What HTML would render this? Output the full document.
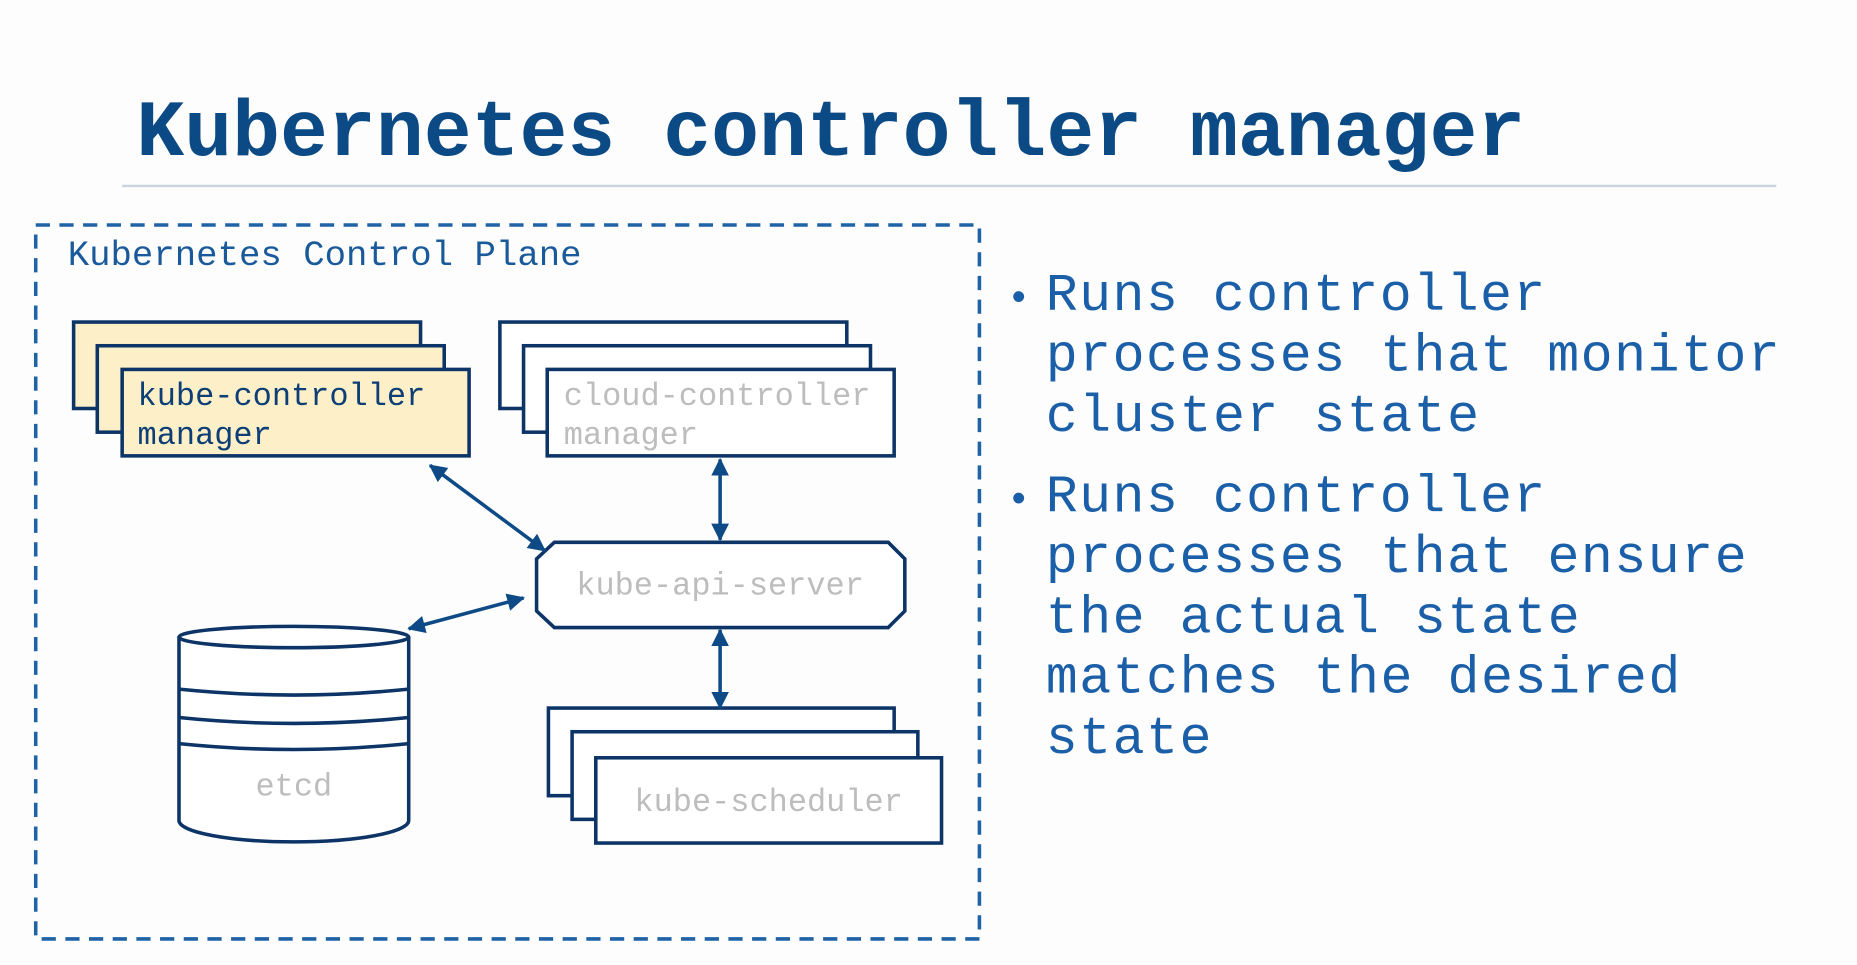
<!DOCTYPE html>
<html><head><meta charset="utf-8"><style>
html,body{margin:0;padding:0;background:#fff;}
svg{display:block;}
text{font-family:"Liberation Mono","DejaVu Sans Mono",monospace;}
</style></head><body>
<svg width="1857" height="965" viewBox="0 0 1568 815" xmlns="http://www.w3.org/2000/svg">
<defs>
<marker id="a" viewBox="0 0 12 12" refX="11" refY="6" markerWidth="15" markerHeight="15" orient="auto-start-reverse" markerUnits="userSpaceOnUse"><path d="M0,0 L12,6 L0,12 z" fill="#0d4a86"/></marker>
</defs>
<rect width="1568" height="815" fill="#fdfdfd"/>
<text x="115" y="131" font-size="67" font-weight="bold" fill="#0b4a85" textLength="1173" lengthAdjust="spacingAndGlyphs">Kubernetes controller manager</text>
<line x1="103" y1="157" x2="1500" y2="157" stroke="#c9d4de" stroke-width="2"/>
<rect x="30" y="190" width="797" height="603" fill="none" stroke="#1f63a6" stroke-width="3" stroke-dasharray="12 8"/>
<text x="57" y="224" font-size="29.5" fill="#1a5a9a" textLength="434" lengthAdjust="spacingAndGlyphs">Kubernetes Control Plane</text>
<g stroke="#0d3466" stroke-width="3" fill="#fdf0c9">
<rect x="62" y="272" width="293" height="73"/>
<rect x="82" y="292" width="293" height="73"/>
<rect x="103" y="312" width="293" height="73"/>
</g>
<text x="116" y="342" font-size="27" fill="#0d3f76" textLength="243" lengthAdjust="spacingAndGlyphs">kube-controller</text>
<text x="116" y="375" font-size="27" fill="#0d3f76">manager</text>
<g stroke="#0d3466" stroke-width="3" fill="#fff">
<rect x="422" y="272" width="293" height="73"/>
<rect x="442" y="292" width="293" height="73"/>
<rect x="462" y="312" width="293" height="73"/>
<rect x="463" y="598" width="292" height="74"/>
<rect x="483" y="618" width="292" height="74"/>
<rect x="503" y="640" width="292" height="72"/>
<path d="M468,458 L750,458 L764,472 L764,516 L750,530 L468,530 L453,516 L453,472 Z"/>
<path d="M151,538 L151,693 A97,18 0 0 0 345,693 L345,538"/>
<ellipse cx="248" cy="538" rx="97" ry="9"/>
<path d="M151,582 Q248,592 345,582 M151,606 Q248,616 345,606 M151,628 Q248,638 345,628" fill="none"/>
</g>
<g font-size="27" fill="#bdbdbd">
<text x="476" y="342" textLength="259" lengthAdjust="spacingAndGlyphs">cloud-controller</text>
<text x="476" y="375">manager</text>
<text x="608" y="502" text-anchor="middle">kube-api-server</text>
<text x="248" y="672" text-anchor="middle">etcd</text>
<text x="649" y="685" text-anchor="middle">kube-scheduler</text>
</g>
<g stroke="#0d4a86" stroke-width="3" marker-start="url(#a)" marker-end="url(#a)">
<line x1="363" y1="393" x2="460" y2="465"/>
<line x1="608" y1="388" x2="608" y2="456"/>
<line x1="345" y1="531" x2="442" y2="505"/>
<line x1="608" y1="532" x2="608" y2="598"/>
</g>
<g font-size="45" fill="#1a5fa8" lengthAdjust="spacingAndGlyphs">
<text x="850" y="262" font-size="34">•</text>
<text x="883" y="262" textLength="422">Runs controller</text>
<text x="883" y="313" textLength="620">processes that monitor</text>
<text x="883" y="364" textLength="366">cluster state</text>
<text x="850" y="432" font-size="34">•</text>
<text x="883" y="432" textLength="422">Runs controller</text>
<text x="883" y="483" textLength="592">processes that ensure</text>
<text x="883" y="534" textLength="451">the actual state</text>
<text x="883" y="585" textLength="536">matches the desired</text>
<text x="883" y="636" textLength="140">state</text>
</g>
</svg>
</body></html>
